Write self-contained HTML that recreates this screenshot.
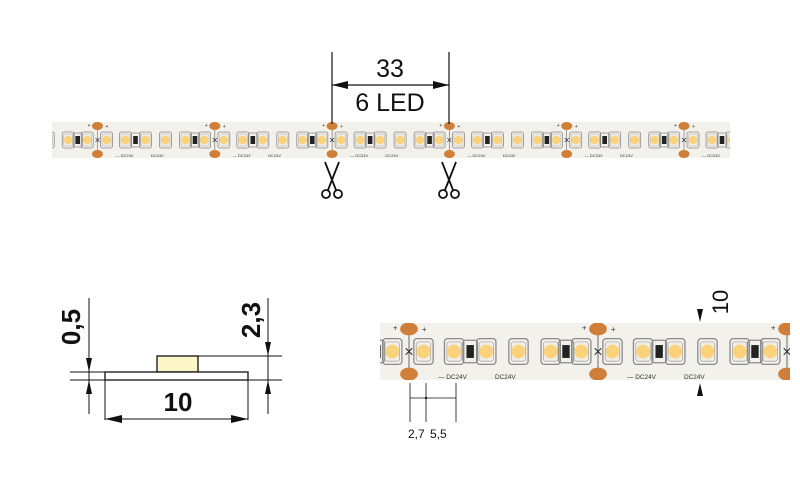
<!DOCTYPE html>
<html><head><meta charset="utf-8"><style>
html,body{margin:0;padding:0;background:#fff;}
svg{display:block;font-family:"Liberation Sans",sans-serif;}
</style></head><body>
<svg width="800" height="492" viewBox="0 0 800 492" xmlns="http://www.w3.org/2000/svg">
<defs>
<g id="led">
  <rect x="-6" y="-8" width="12" height="16" rx="2" fill="none" stroke="#8a8a8a" stroke-width="0.8"/>
  <rect x="-4.5" y="-6" width="9" height="12" rx="1.5" fill="#f0eee6" stroke="#aaa" stroke-width="0.5"/>
  <circle cx="0" cy="0" r="4.3" fill="#fbd27c"/>
</g>
<g id="res">
  <rect x="-4.5" y="-7" width="9" height="14" rx="1.5" fill="none" stroke="#8a8a8a" stroke-width="0.8"/>
  <rect x="-2.3" y="-4" width="4.6" height="8" fill="#222"/>
</g>
<g id="seg">
  <line x1="0" y1="-18" x2="0" y2="18" stroke="#666" stroke-width="0.6"/>
  <ellipse cx="0" cy="-14" rx="5.5" ry="4" fill="#cf7f3a"/>
  <ellipse cx="0" cy="14" rx="5.5" ry="4" fill="#cf7f3a"/>
  <path d="M-2,-2 L2,2 M2,-2 L-2,2" stroke="#333" stroke-width="0.7"/>
  <text x="-10" y="-13" font-size="5" fill="#333">+</text>
  <text x="8" y="-12" font-size="5" fill="#333">+</text>
  <text x="18" y="17" font-size="4" fill="#333">— DC24V</text>
  <text x="-64" y="17" font-size="4" fill="#333">DC24V</text>
  <use href="#led" x="9"/>
  <use href="#led" x="28"/>
  <use href="#res" x="38"/>
  <use href="#led" x="48"/>
  <use href="#led" x="68"/>
  <use href="#led" x="88"/>
  <use href="#res" x="97.5"/>
  <use href="#led" x="107"/>
</g>
<g id="sc" fill="none" stroke="#111" stroke-width="1.8">
  <path d="M-7,162 L4,190 M7,162 L-4,190"/>
  <circle cx="-6" cy="194" r="4"/>
  <circle cx="6" cy="194" r="4"/>
</g>
<clipPath id="c1"><rect x="52" y="122" width="678" height="36"/></clipPath>
<clipPath id="c2"><rect x="380" y="323" width="410" height="57"/></clipPath>
</defs>

<!-- top strip -->
<rect x="52" y="122" width="678" height="36" fill="#f3f1eb"/>
<g clip-path="url(#c1)">
  <use href="#seg" transform="translate(-19.8,140)"/>
  <use href="#seg" transform="translate(97.5,140)"/>
  <use href="#seg" transform="translate(214.8,140)"/>
  <use href="#seg" transform="translate(332.1,140)"/>
  <use href="#seg" transform="translate(449.4,140)"/>
  <use href="#seg" transform="translate(566.7,140)"/>
  <use href="#seg" transform="translate(684,140)"/>
</g>
<!-- top dimension -->
<g stroke="#111" stroke-width="1.2">
  <line x1="332" y1="52" x2="332" y2="124"/>
  <line x1="449" y1="52" x2="449" y2="124"/>
  <line x1="332" y1="85" x2="449" y2="85"/>
</g>
<path d="M332,85 L348,81 L348,89 Z" fill="#111"/>
<path d="M449,85 L433,81 L433,89 Z" fill="#111"/>
<text x="390" y="77" font-size="25" text-anchor="middle" fill="#111">33</text>
<text x="390" y="111" font-size="25" text-anchor="middle" fill="#111">6 LED</text>
<!-- scissors -->
<use href="#sc" x="332"/>
<use href="#sc" x="449"/>

<!-- left cross section -->
<rect x="157" y="356" width="41" height="16" fill="#fdf6c8" stroke="#111" stroke-width="1.3"/>
<rect x="105" y="372" width="143" height="8" fill="#fff" stroke="#111" stroke-width="1.3"/>
<g stroke="#111" stroke-width="1">
  <line x1="70" y1="372" x2="105" y2="372"/>
  <line x1="70" y1="380" x2="282" y2="380"/>
  <line x1="198" y1="356" x2="282" y2="356"/>
  <line x1="89" y1="298" x2="89" y2="414"/>
  <line x1="268" y1="298" x2="268" y2="414"/>
  <line x1="105" y1="380" x2="105" y2="420"/>
  <line x1="248" y1="380" x2="248" y2="420"/>
  <line x1="105" y1="419" x2="248" y2="419"/>
</g>
<path d="M89,372 L86,358 L92,358 Z M89,380 L86,394 L92,394 Z M268,356 L265,342 L271,342 Z M268,380 L265,394 L271,394 Z" fill="#111"/>
<path d="M105,419 L122,415 L122,423 Z M248,419 L231,415 L231,423 Z" fill="#111"/>
<text x="178" y="411" font-size="26" font-weight="bold" text-anchor="middle" fill="#111">10</text>
<text transform="translate(80,327) rotate(-90)" font-size="26" font-weight="bold" text-anchor="middle" fill="#111">0,5</text>
<text transform="translate(260,320) rotate(-90)" font-size="26" font-weight="bold" text-anchor="middle" fill="#111">2,3</text>

<!-- bottom strip -->
<rect x="380" y="323" width="410" height="57" fill="#f3f1eb"/>
<g clip-path="url(#c2)">
  <use href="#seg" transform="translate(220,351.5) scale(1.61)"/>
  <use href="#seg" transform="translate(409,351.5) scale(1.61)"/>
  <use href="#seg" transform="translate(598,351.5) scale(1.61)"/>
  <use href="#seg" transform="translate(787,351.5) scale(1.61)"/>
</g>
<g stroke="#111" stroke-width="0.8">
  <line x1="410" y1="383" x2="410" y2="422"/>
  <line x1="426" y1="383" x2="426" y2="422"/>
  <line x1="456" y1="383" x2="456" y2="422"/>
  <line x1="410" y1="398" x2="456" y2="398"/>
</g>
<circle cx="426" cy="398" r="1.2" fill="#111"/>
<text x="408" y="438" font-size="12" fill="#111">2,7</text>
<text x="430" y="438" font-size="12" fill="#111">5,5</text>
<path d="M697,309 L703,309 L700,322 Z M697,396 L703,396 L700,383 Z" fill="#111"/>
<text transform="translate(728,302) rotate(-90)" font-size="22" text-anchor="middle" fill="#111">10</text>
</svg>
</body></html>
